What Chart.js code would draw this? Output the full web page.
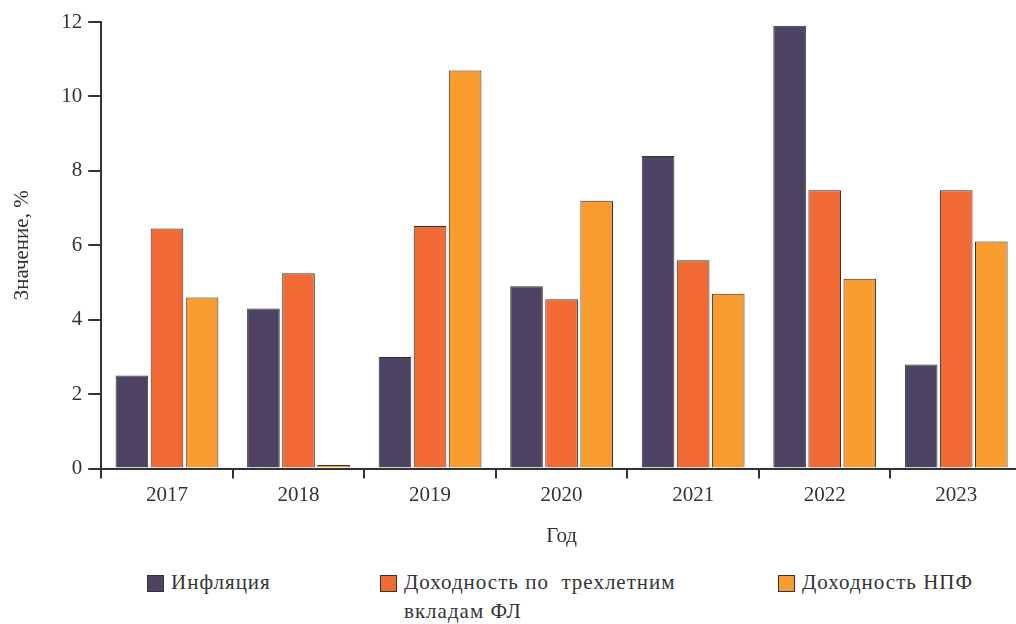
<!DOCTYPE html>
<html>
<head>
<meta charset="utf-8">
<script src="https://cdn.jsdelivr.net/npm/chart.js@4"></script>
<style>
  html, body { margin: 0; padding: 0; background: #fff; overflow: hidden; }
  #wrap { position: relative; width: 1022px; height: 624px; }
  #wrap canvas { position: absolute; left: 0; top: 0; }
  #legend { position: absolute; top: 568px; left: 0; width: 1016px; font-family: "Times New Roman", "Liberation Serif", "DejaVu Serif", serif; font-size: 21px; color: #333; letter-spacing: 1px; }
  .item { position: absolute; top: 0; display: flex; align-items: flex-start; line-height: 29px; }
  .box { width: 15px; height: 15px; border: 1px solid #333; margin: 7px 7px 0 0; flex: none; }
</style>
</head>
<body>
<div id="wrap">
  <canvas id="mycanvas" width="1022" height="560" style="width:1022px;height:560px"></canvas>
  <div id="legend"></div>
</div>
<script>
var years = ["2017", "2018", "2019", "2020", "2021", "2022", "2023"];
var inflation = [2.5, 4.3, 3.0, 4.9, 8.4, 11.9, 2.8];
var deposits = [6.45, 5.25, 6.52, 4.55, 5.6, 7.48, 7.48];
var npf = [4.6, 0.1, 10.7, 7.2, 4.7, 5.1, 6.1];
var seriesNames = ["Инфляция", "Доходность по  трехлетним вкладам ФЛ", "Доходность НПФ"];
var colors = ["#4e4363", "#f26a36", "#f89c30"];
var yTicks = [0, 2, 4, 6, 8, 10, 12];

var font = '"Times New Roman", "Liberation Serif", "DejaVu Serif", serif';
var ctx = document.getElementById("mycanvas");
var chart = new Chart(ctx, {
	type: 'bar',
	data: {
		labels: years,
		datasets: [
			{ label: seriesNames[0], data: inflation, backgroundColor: colors[0], borderColor: '#333', borderWidth: 1 },
			{ label: seriesNames[1], data: deposits, backgroundColor: colors[1], borderColor: '#333', borderWidth: 1 },
			{ label: seriesNames[2], data: npf, backgroundColor: colors[2], borderColor: '#333', borderWidth: 1 }
		]
	},
	options: {
		responsive: false,
		animation: false,
		datasets: { bar: { categoryPercentage: 0.8, barPercentage: 0.93 } },
		layout: { padding: { top: 22, right: 0, left: 6, bottom: 7 } },
		plugins: { legend: { display: false }, tooltip: { enabled: false } },
		scales: {
			x: {
				grid: { drawOnChartArea: false, drawTicks: true, tickLength: 10, color: '#333', lineWidth: 2, offset: true },
				border: { display: true, color: '#333', width: 2 },
				ticks: { color: '#333', font: { family: font, size: 21 }, padding: 4 },
				title: { display: true, text: 'Год', color: '#333', font: { family: font, size: 21 }, padding: { top: 12 } }
			},
			y: {
				min: 0, max: 12,
				afterBuildTicks: function(axis) { axis.ticks = yTicks.map(function(v){ return { value: v }; }); },
				grid: { drawOnChartArea: false, drawTicks: true, tickLength: 13, color: '#333', lineWidth: 2 },
				border: { display: true, color: '#333', width: 2 },
				ticks: { color: '#333', font: { family: font, size: 21 }, padding: 6 },
				title: { display: true, text: 'Значение, %', color: '#333', font: { family: font, size: 21 }, padding: { bottom: 20 } }
			}
		}
	}
});

// legend below the chart, built from dataset labels
var legendX = [147, 380, 778];
var lg = document.getElementById("legend");
for (var i = 0; i < seriesNames.length; i++) {
	var it = document.createElement("div");
	it.className = "item";
	it.style.left = legendX[i] + "px";
	if (i == 1) it.style.width = "310px";
	var b = document.createElement("div");
	b.className = "box";
	b.style.background = colors[i];
	var t = document.createElement("div");
	t.textContent = seriesNames[i];
	t.style.whiteSpace = "pre-wrap";
	it.appendChild(b);
	it.appendChild(t);
	lg.appendChild(it);
}
</script>
</body>
</html>
